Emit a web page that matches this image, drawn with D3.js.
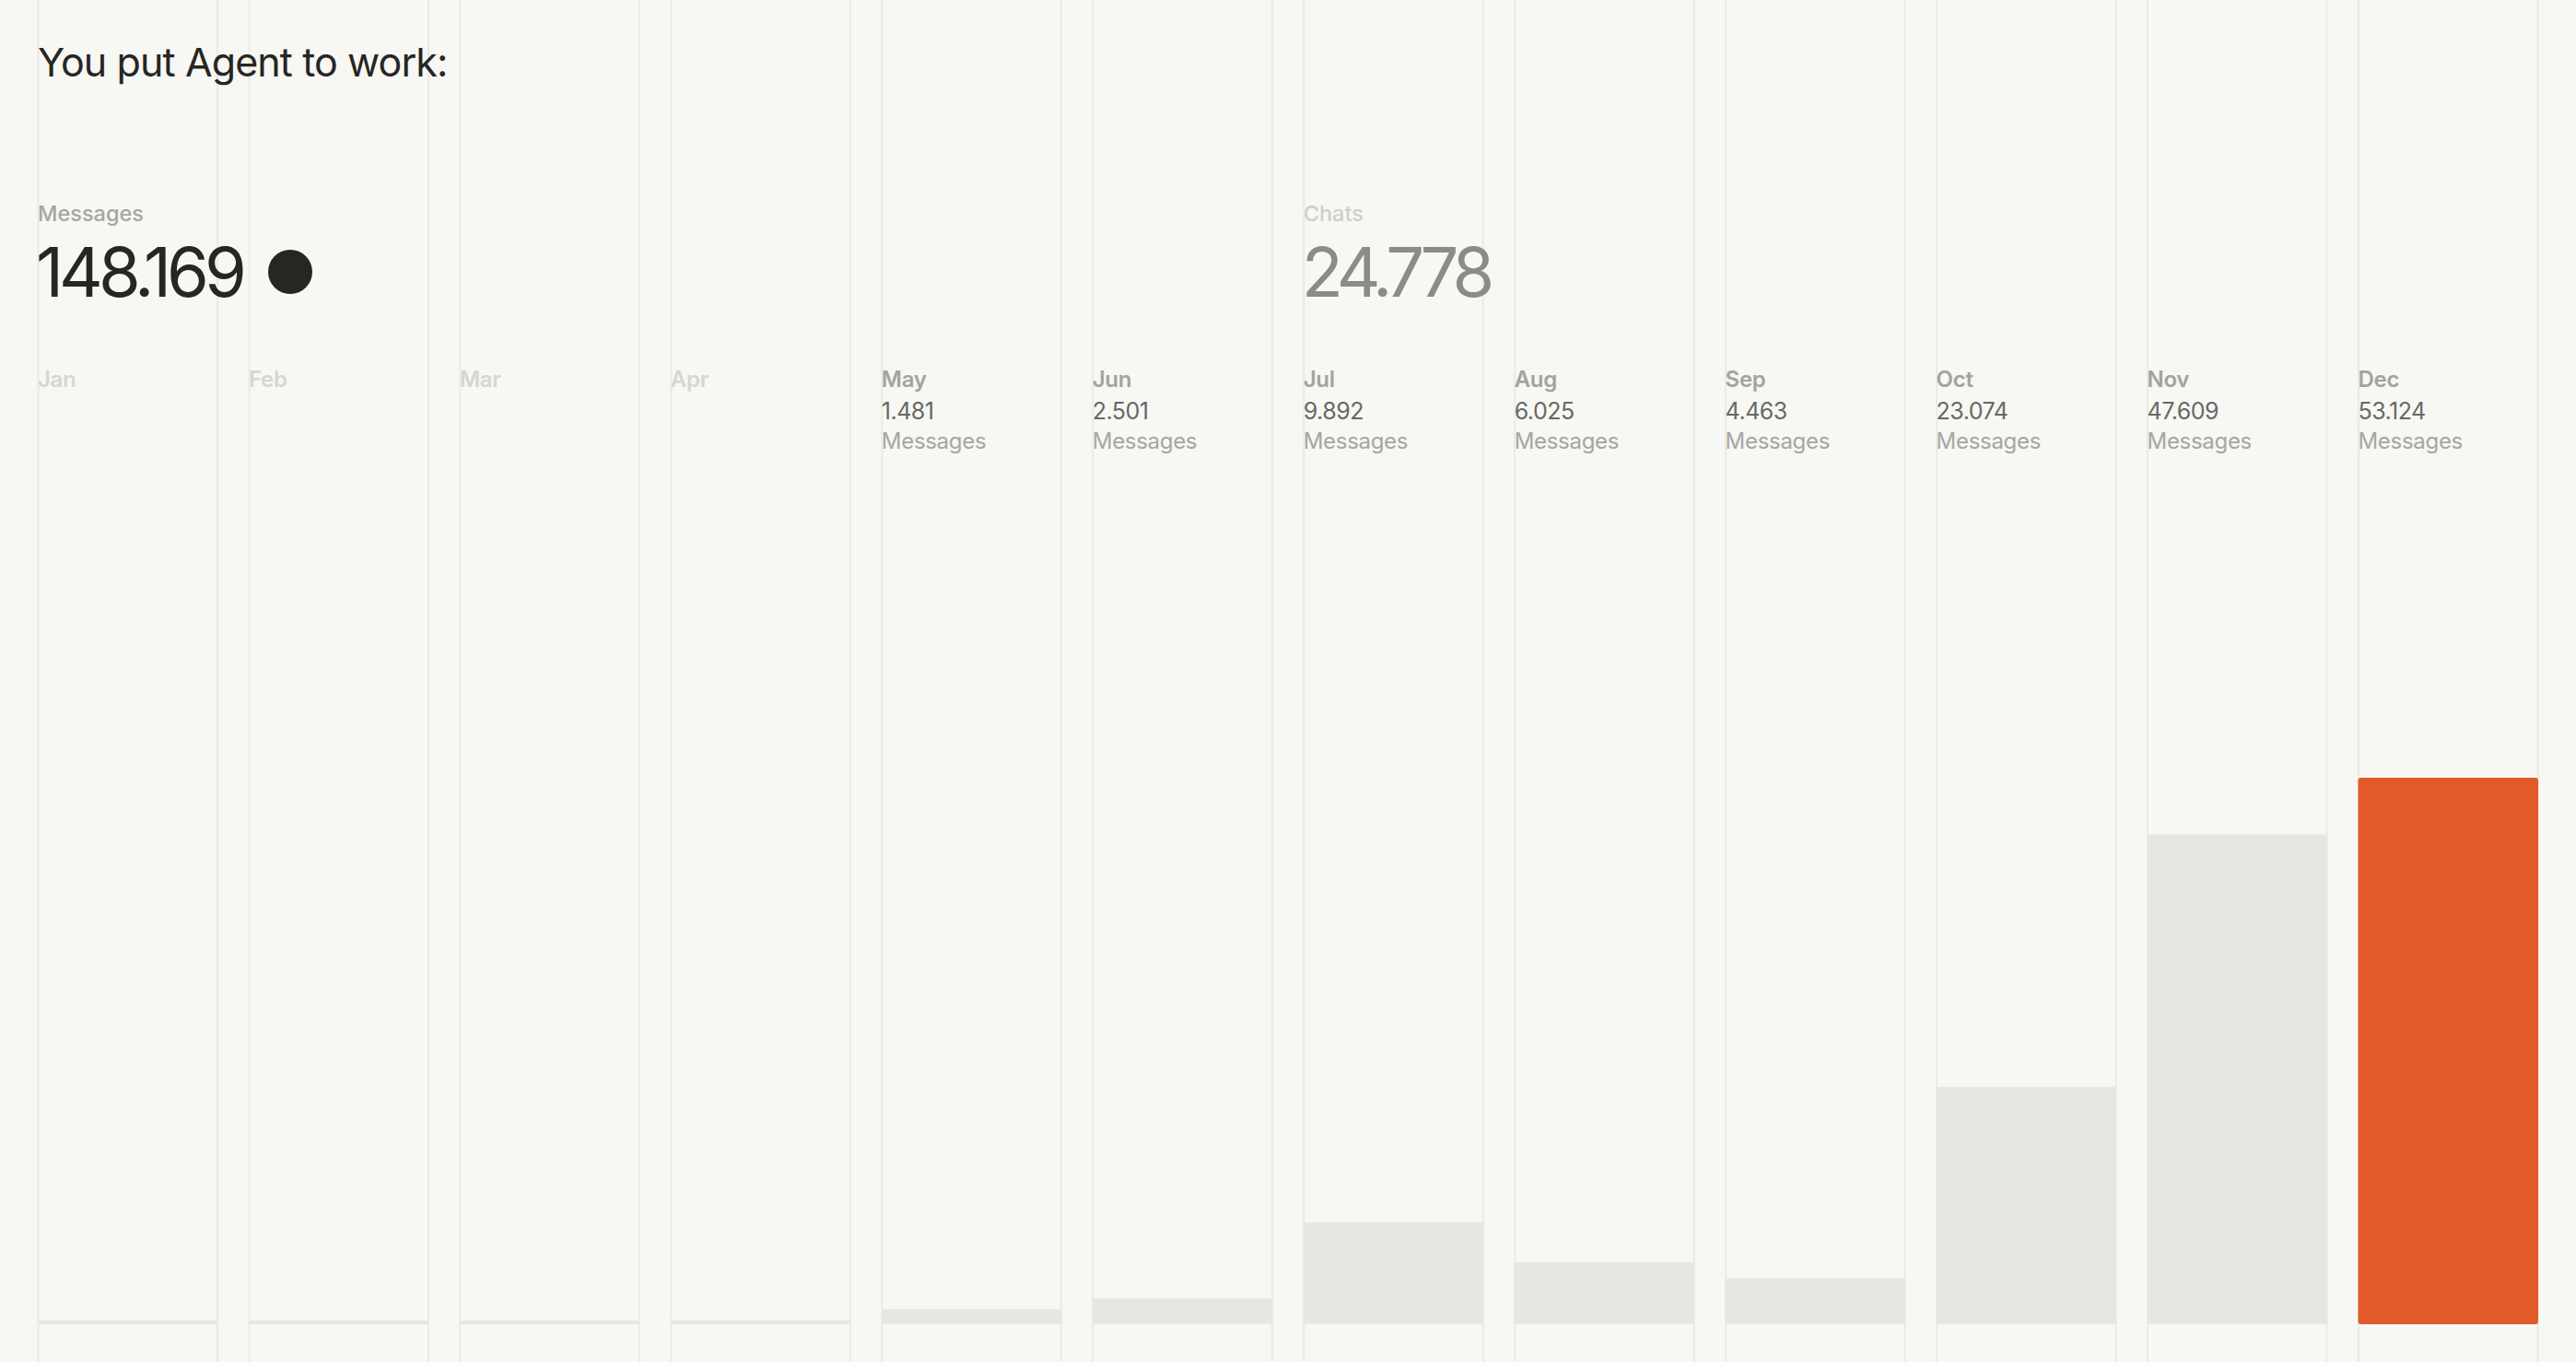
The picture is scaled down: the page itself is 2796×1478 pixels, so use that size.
<!DOCTYPE html>
<html>
<head>
<meta charset="utf-8">
<script src="https://cdn.jsdelivr.net/npm/d3@7"></script>
<style>
html,body{margin:0;padding:0;background:#f7f7f3;overflow:hidden;}
svg{display:block;}
text{font-family:Inter,"Noto Sans",sans-serif;}
</style>
</head>
<body>
<script>
var months=["Jan","Feb","Mar","Apr","May","Jun","Jul","Aug","Sep","Oct","Nov","Dec"];
var messages=[0,0,0,0,1481,2501,9892,6025,4463,23074,47609,53124];
var totalMessages="148.169";
var totalChats="24.778";

var width=2796;
var height=1478;
var svg=d3.select("body")
    .append("svg")
    .attr("width",width)
    .attr("height",height);

var fmt=d3.formatLocale({decimal:",",thousands:".",grouping:[3],currency:["",""]}).format(",d");

var x=d3.scaleBand()
    .domain(months)
    .range([41,2755])
    .paddingInner(0.146)
    .paddingOuter(0);

var y=d3.scaleLinear()
    .domain([0,d3.max(messages)])
    .range([1437,844]);

// column guide lines, full height
var cols=svg.selectAll("g.col")
    .data(months)
    .enter()
    .append("g")
    .attr("class","col");

cols.append("line")
    .attr("x1",function(d){return x(d)+0.5;})
    .attr("x2",function(d){return x(d)+0.5;})
    .attr("y1",0)
    .attr("y2",height)
    .attr("stroke","#ebebe5")
    .attr("stroke-width",2);

cols.append("line")
    .attr("x1",function(d){return x(d)+x.bandwidth()-0.5;})
    .attr("x2",function(d){return x(d)+x.bandwidth()-0.5;})
    .attr("y1",0)
    .attr("y2",height)
    .attr("stroke","#ebebe5")
    .attr("stroke-width",2);

// bars (zero months get a thin base line)
svg.selectAll("rect.bar")
    .data(messages)
    .enter()
    .append("rect")
    .attr("class","bar")
    .attr("x",function(d,i){return x(months[i]);})
    .attr("width",x.bandwidth())
    .attr("y",function(d){return Math.min(y(d),y(0)-4);})
    .attr("height",function(d){return Math.max(y(0)-y(d),4);})
    .attr("rx",3)
    .attr("fill",function(d,i){return i==messages.length-1?"#e25a29":"#e7e7e2";});

// month labels
var labels=svg.selectAll("g.lbl")
    .data(months)
    .enter()
    .append("g")
    .attr("class","lbl")
    .attr("transform",function(d){return "translate("+x(d)+",0)";});

labels.append("text")
    .attr("y",420)
    .attr("font-size","24px")
    .attr("font-weight",600)
    .attr("letter-spacing","-0.3px")
    .attr("fill",function(d,i){return messages[i]>0?"#a3a39e":"#d6d6d1";})
    .text(function(d){return d;});

labels.filter(function(d,i){return messages[i]>0;})
    .append("text")
    .attr("y",455)
    .attr("font-size","25px")
    .attr("letter-spacing","-0.5px")
    .attr("fill","#686864")
    .text(function(d){return fmt(messages[months.indexOf(d)]);});

labels.filter(function(d,i){return messages[i]>0;})
    .append("text")
    .attr("y",487)
    .attr("font-size","24px")
    .attr("letter-spacing","-0.3px")
    .attr("fill","#a6a6a1")
    .text("Messages");

// title
svg.append("text")
    .attr("x",41)
    .attr("y",83)
    .attr("font-size","43px")
    .attr("letter-spacing","-0.9px")
    .attr("fill","#262622")
    .text("You put Agent to work:");

// totals
svg.append("text")
    .attr("x",41)
    .attr("y",240)
    .attr("font-size","23.5px")
    .attr("font-weight",500)
    .attr("fill","#a6a6a1")
    .text("Messages");

svg.append("text")
    .attr("x",39)
    .attr("y",322)
    .attr("font-size","74px")
    .attr("letter-spacing","-5px")
    .attr("fill","#262622")
    .text(totalMessages);

svg.append("circle")
    .attr("cx",315)
    .attr("cy",295)
    .attr("r",24)
    .attr("fill","#262622");

svg.append("text")
    .attr("x",x("Jul"))
    .attr("y",240)
    .attr("font-size","23.5px")
    .attr("font-weight",500)
    .attr("fill","#cfcfca")
    .text("Chats");

svg.append("text")
    .attr("x",x("Jul")-2)
    .attr("y",322)
    .attr("font-size","74px")
    .attr("letter-spacing","-6px")
    .attr("fill","#8c8c87")
    .text(totalChats);
</script>
</body>
</html>
